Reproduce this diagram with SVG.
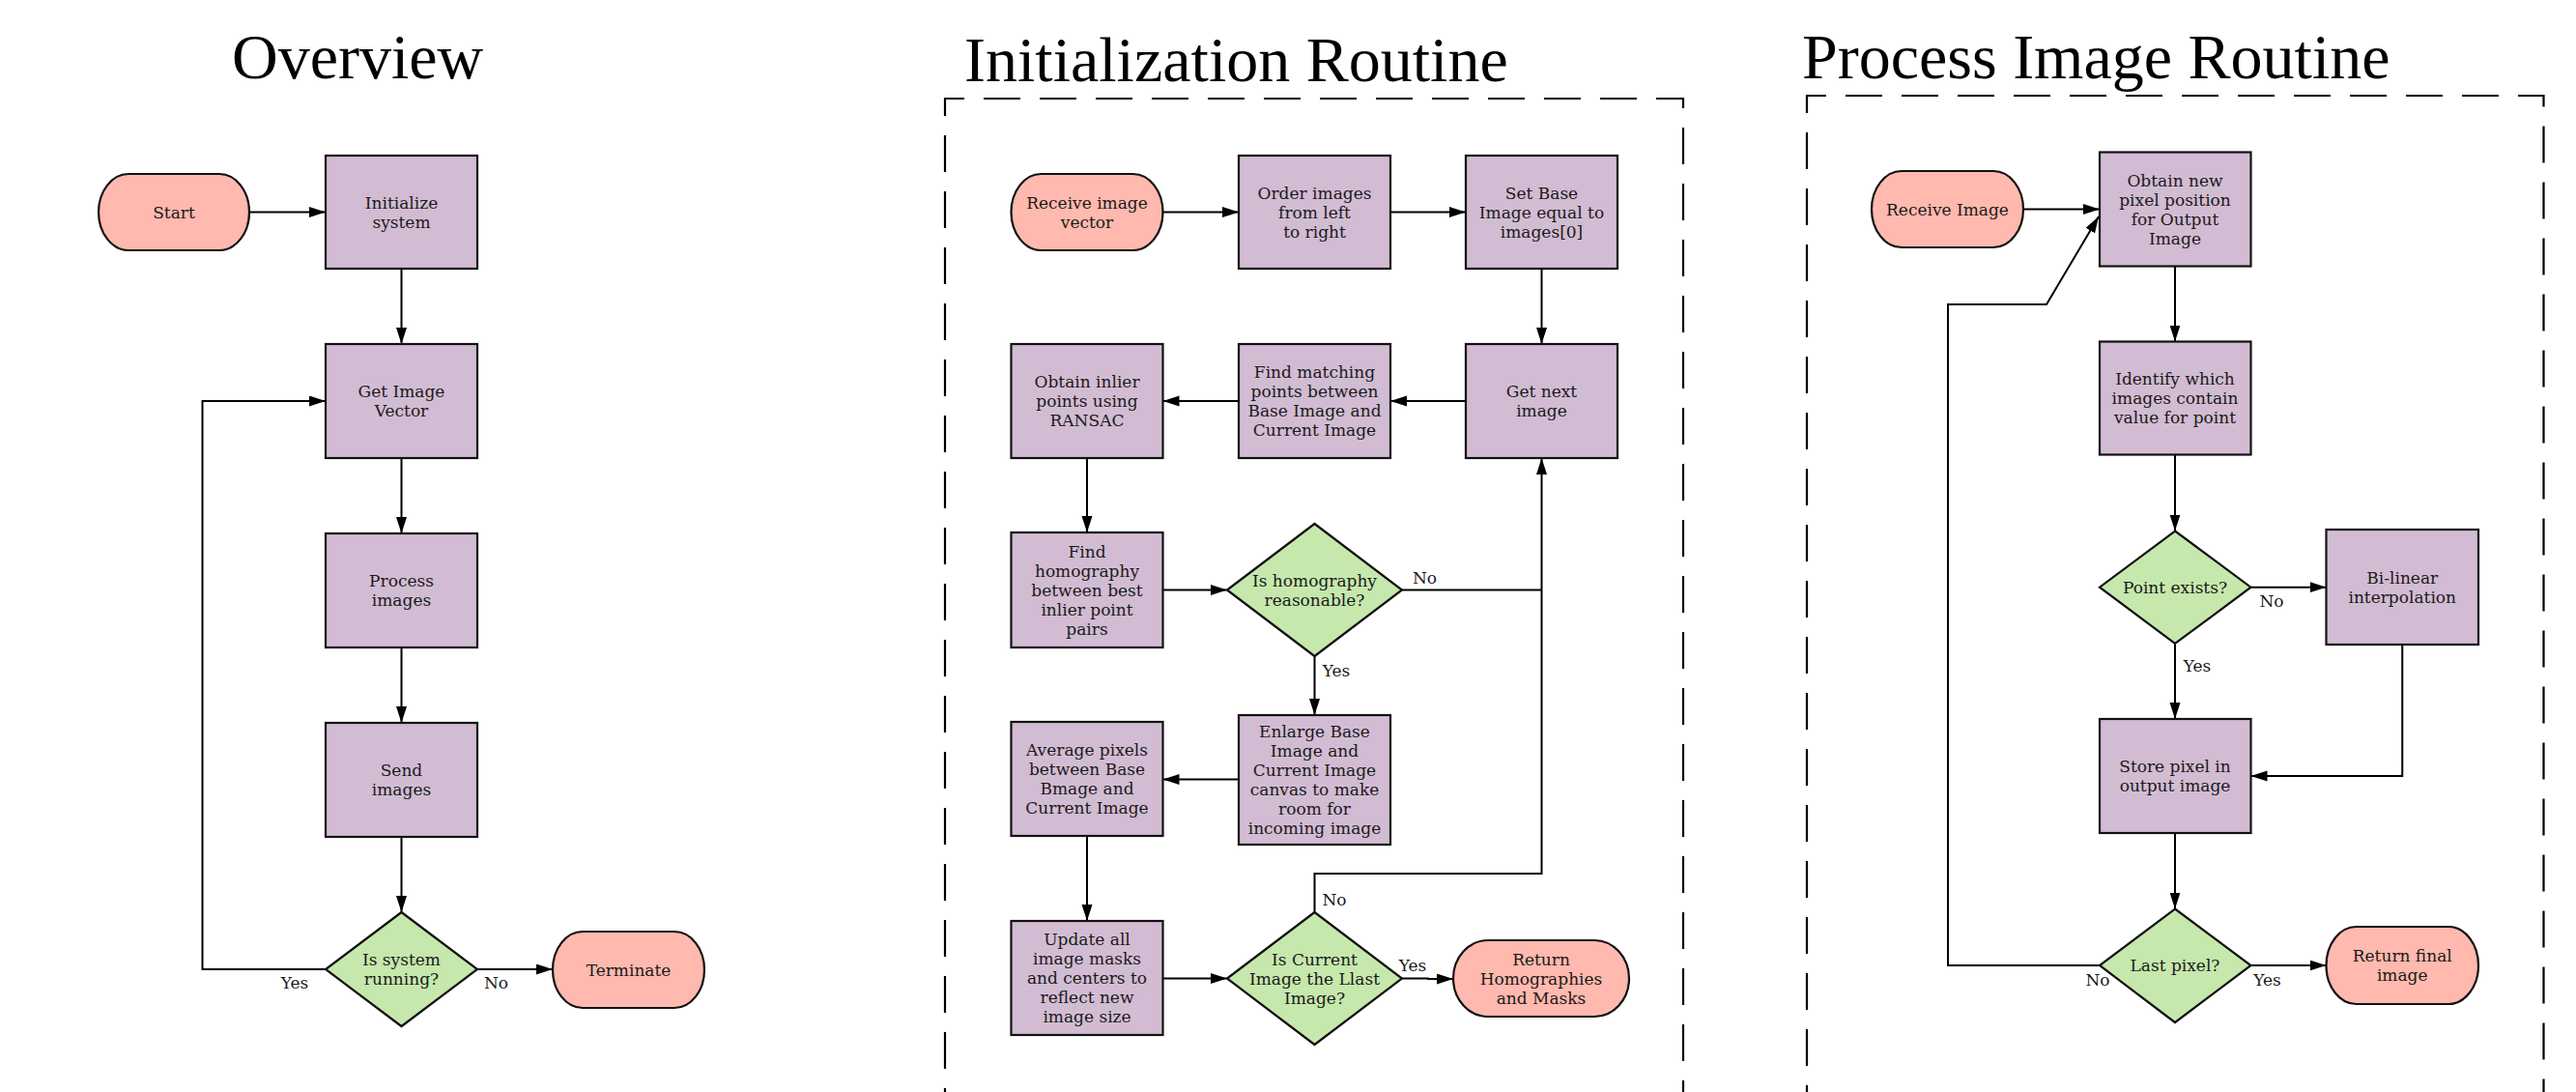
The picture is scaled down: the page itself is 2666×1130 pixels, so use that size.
<svg xmlns="http://www.w3.org/2000/svg" width="2666" height="1130" viewBox="0 0 2666 1130">
<style>
.title{font-family:"Liberation Serif","Times New Roman",serif;font-size:66px;fill:#000}
.t{font-family:"DejaVu Serif",serif;font-size:17px;fill:#1a1a1a;text-anchor:middle}
.lbl{font-family:"DejaVu Serif",serif;font-size:17px;fill:#1a1a1a;text-anchor:middle}
.proc{fill:#d2bcd3;stroke:#111;stroke-width:2.2}
.term{fill:#ffb9ae;stroke:#111;stroke-width:2.2}
.dec{fill:#c6e8ad;stroke:#111;stroke-width:2.2}
.edge{fill:none;stroke:#000;stroke-width:2;marker-end:url(#ah)}
.line{fill:none;stroke:#000;stroke-width:2}
.frame{fill:none;stroke:#000;stroke-width:2.2;stroke-dasharray:38 20}
</style>
<defs>
<marker id="ah" markerUnits="userSpaceOnUse" markerWidth="18" markerHeight="12" refX="17" refY="5.5" orient="auto">
<path d="M0,0 L17,5.5 L0,11 z" fill="#000"/>
</marker>
</defs>
<rect width="2666" height="1130" fill="#fff"/>

<g id="titles">
<text class="title" x="240" y="81">Overview</text>
<text class="title" x="998" y="84">Initialization Routine</text>
<text class="title" x="1865" y="81">Process Image Routine</text>
</g>

<g id="frames">
<path class="frame" style="stroke-dashoffset:22" d="M978,1200 V102 H1742 V1200"/>
<path class="frame" style="stroke-dashoffset:19" d="M1870,1200 V99 H2632.5 V1200"/>
</g>

<g id="connectors">
<!-- Overview -->
<path class="edge" d="M258,219.5 H337"/>
<path class="edge" d="M415.5,278 V356"/>
<path class="edge" d="M415.5,474 V552"/>
<path class="edge" d="M415.5,670 V748"/>
<path class="edge" d="M415.5,866 V944"/>
<path class="edge" d="M494,1003 H572"/>
<path class="edge" d="M337,1003 H209.5 V415 H337"/>
<!-- Initialization -->
<path class="edge" d="M1203.5,219.5 H1282"/>
<path class="edge" d="M1439,219.5 H1517"/>
<path class="edge" d="M1595.5,278 V356"/>
<path class="edge" d="M1517,415 H1439"/>
<path class="edge" d="M1282,415 H1203.5"/>
<path class="edge" d="M1125,474 V551"/>
<path class="edge" d="M1203.5,610.5 H1270"/>
<path class="line" d="M1451,610.5 H1595.5"/>
<path class="edge" d="M1360.5,679 V740"/>
<path class="edge" d="M1282,806.5 H1203.5"/>
<path class="edge" d="M1125,865 V953"/>
<path class="edge" d="M1203.5,1012.5 H1270"/>
<path class="edge" d="M1451,1012.5 H1478 V1013 H1504"/>
<path class="edge" d="M1360.5,944 V904 H1595.5 V474"/>
<!-- Process Image -->
<path class="edge" d="M2094,216.5 H2173"/>
<path class="edge" d="M2251,275.5 V353.5"/>
<path class="edge" d="M2251,470.5 V549.5"/>
<path class="edge" d="M2329.5,607.7 H2407.5"/>
<path class="edge" d="M2251,666 V744"/>
<path class="edge" d="M2486.25,667 V803 H2329.5"/>
<path class="edge" d="M2251,862 V940.5"/>
<path class="edge" d="M2329.5,999 H2407.5"/>
<path class="edge" d="M2173,999 H2016 V315 H2118 L2172,224"/>
</g>

<g id="edge-labels">
<text class="lbl" x="305" y="1023">Yes</text>
<text class="lbl" x="513.5" y="1023">No</text>
<text class="lbl" x="1474.5" y="604">No</text>
<text class="lbl" x="1383" y="700">Yes</text>
<text class="lbl" x="1381" y="937">No</text>
<text class="lbl" x="1462" y="1005">Yes</text>
<text class="lbl" x="2351" y="628">No</text>
<text class="lbl" x="2274" y="695">Yes</text>
<text class="lbl" x="2171" y="1020">No</text>
<text class="lbl" x="2346.5" y="1020">Yes</text>
</g>

<!-- Overview nodes -->
<g id="ov-start"><rect class="term" x="102" y="180" width="156" height="79" rx="31" ry="39.5"/><text class="t" x="180" y="225.7">Start</text></g>
<g id="ov-init"><rect class="proc" x="337" y="161" width="157" height="117"/><text class="t" x="415.5" y="215.7">Initialize<tspan x="415.5" dy="20">system</tspan></text></g>
<g id="ov-get"><rect class="proc" x="337" y="356" width="157" height="118"/><text class="t" x="415.5" y="411.2">Get Image<tspan x="415.5" dy="20">Vector</tspan></text></g>
<g id="ov-process"><rect class="proc" x="337" y="552" width="157" height="118"/><text class="t" x="415.5" y="607.2">Process<tspan x="415.5" dy="20">images</tspan></text></g>
<g id="ov-send"><rect class="proc" x="337" y="748" width="157" height="118"/><text class="t" x="415.5" y="803.2">Send<tspan x="415.5" dy="20">images</tspan></text></g>
<g id="ov-running"><polygon class="dec" points="415.5,944 494,1003 415.5,1062 337,1003"/><text class="t" x="415.5" y="999.2">Is system<tspan x="415.5" dy="20">running?</tspan></text></g>
<g id="ov-terminate"><rect class="term" x="572" y="964" width="157" height="79" rx="31" ry="39.5"/><text class="t" x="650.5" y="1009.7">Terminate</text></g>

<!-- Initialization nodes -->
<g id="in-receive"><rect class="term" x="1046.5" y="180" width="157" height="79" rx="31" ry="39.5"/><text class="t" x="1125" y="215.7">Receive image<tspan x="1125" dy="20">vector</tspan></text></g>
<g id="in-order"><rect class="proc" x="1282" y="161" width="157" height="117"/><text class="t" x="1360.5" y="205.7">Order images<tspan x="1360.5" dy="20">from left</tspan><tspan x="1360.5" dy="20">to right</tspan></text></g>
<g id="in-setbase"><rect class="proc" x="1517" y="161" width="157" height="117"/><text class="t" x="1595.5" y="205.7">Set Base<tspan x="1595.5" dy="20">Image equal to</tspan><tspan x="1595.5" dy="20">images[0]</tspan></text></g>
<g id="in-getnext"><rect class="proc" x="1517" y="356" width="157" height="118"/><text class="t" x="1595.5" y="411.2">Get next<tspan x="1595.5" dy="20">image</tspan></text></g>
<g id="in-findmatch"><rect class="proc" x="1282" y="356" width="157" height="118"/><text class="t" x="1360.5" y="391.2">Find matching<tspan x="1360.5" dy="20">points between</tspan><tspan x="1360.5" dy="20">Base Image and</tspan><tspan x="1360.5" dy="20">Current Image</tspan></text></g>
<g id="in-inlier"><rect class="proc" x="1046.5" y="356" width="157" height="118"/><text class="t" x="1125" y="401.2">Obtain inlier<tspan x="1125" dy="20">points using</tspan><tspan x="1125" dy="20">RANSAC</tspan></text></g>
<g id="in-homography"><rect class="proc" x="1046.5" y="551" width="157" height="119"/><text class="t" x="1125" y="576.7">Find<tspan x="1125" dy="20">homography</tspan><tspan x="1125" dy="20">between best</tspan><tspan x="1125" dy="20">inlier point</tspan><tspan x="1125" dy="20">pairs</tspan></text></g>
<g id="in-reasonable"><polygon class="dec" points="1360.5,542 1451,610.5 1360.5,679 1270,610.5"/><text class="t" x="1360.5" y="606.7">Is homography<tspan x="1360.5" dy="20">reasonable?</tspan></text></g>
<g id="in-enlarge"><rect class="proc" x="1282" y="740" width="157" height="134"/><text class="t" x="1360.5" y="763.2">Enlarge Base<tspan x="1360.5" dy="20">Image and</tspan><tspan x="1360.5" dy="20">Current Image</tspan><tspan x="1360.5" dy="20">canvas to make</tspan><tspan x="1360.5" dy="20">room for</tspan><tspan x="1360.5" dy="20">incoming image</tspan></text></g>
<g id="in-average"><rect class="proc" x="1046.5" y="747" width="157" height="118"/><text class="t" x="1125" y="782.2">Average pixels<tspan x="1125" dy="20">between Base</tspan><tspan x="1125" dy="20">Bmage and</tspan><tspan x="1125" dy="20">Current Image</tspan></text></g>
<g id="in-update"><rect class="proc" x="1046.5" y="953" width="157" height="118"/><text class="t" x="1125" y="978.2">Update all<tspan x="1125" dy="20">image masks</tspan><tspan x="1125" dy="20">and centers to</tspan><tspan x="1125" dy="20">reflect new</tspan><tspan x="1125" dy="20">image size</tspan></text></g>
<g id="in-last"><polygon class="dec" points="1360.5,944 1451,1012.5 1360.5,1081 1270,1012.5"/><text class="t" x="1360.5" y="998.7">Is Current<tspan x="1360.5" dy="20">Image the Llast</tspan><tspan x="1360.5" dy="20">Image?</tspan></text></g>
<g id="in-return"><rect class="term" x="1504" y="973" width="182" height="79" rx="36" ry="39.5"/><text class="t" x="1595" y="998.7">Return<tspan x="1595" dy="20">Homographies</tspan><tspan x="1595" dy="20">and Masks</tspan></text></g>

<!-- Process Image nodes -->
<g id="pr-receive"><rect class="term" x="1937" y="177" width="157" height="79" rx="31" ry="39.5"/><text class="t" x="2015.5" y="222.7">Receive Image</text></g>
<g id="pr-obtain"><rect class="proc" x="2173" y="157.5" width="156.5" height="118"/><text class="t" x="2251" y="192.7">Obtain new<tspan x="2251" dy="20">pixel position</tspan><tspan x="2251" dy="20">for Output</tspan><tspan x="2251" dy="20">Image</tspan></text></g>
<g id="pr-identify"><rect class="proc" x="2173" y="353.5" width="156.5" height="117"/><text class="t" x="2251" y="398.2">Identify which<tspan x="2251" dy="20">images contain</tspan><tspan x="2251" dy="20">value for point</tspan></text></g>
<g id="pr-exists"><polygon class="dec" points="2251,549.5 2329.5,607.7 2251,666 2173,607.7"/><text class="t" x="2251" y="613.9">Point exists?</text></g>
<g id="pr-bilinear"><rect class="proc" x="2407.5" y="548" width="157.5" height="119"/><text class="t" x="2486.25" y="603.7">Bi-linear<tspan x="2486.25" dy="20">interpolation</tspan></text></g>
<g id="pr-store"><rect class="proc" x="2173" y="744" width="156.5" height="118"/><text class="t" x="2251" y="799.2">Store pixel in<tspan x="2251" dy="20">output image</tspan></text></g>
<g id="pr-last"><polygon class="dec" points="2251,940.5 2329.5,999 2251,1058 2173,999"/><text class="t" x="2251" y="1005.2">Last pixel?</text></g>
<g id="pr-return"><rect class="term" x="2407.5" y="959" width="157.5" height="80" rx="31" ry="40"/><text class="t" x="2486.25" y="995.2">Return final<tspan x="2486.25" dy="20">image</tspan></text></g>
</svg>
